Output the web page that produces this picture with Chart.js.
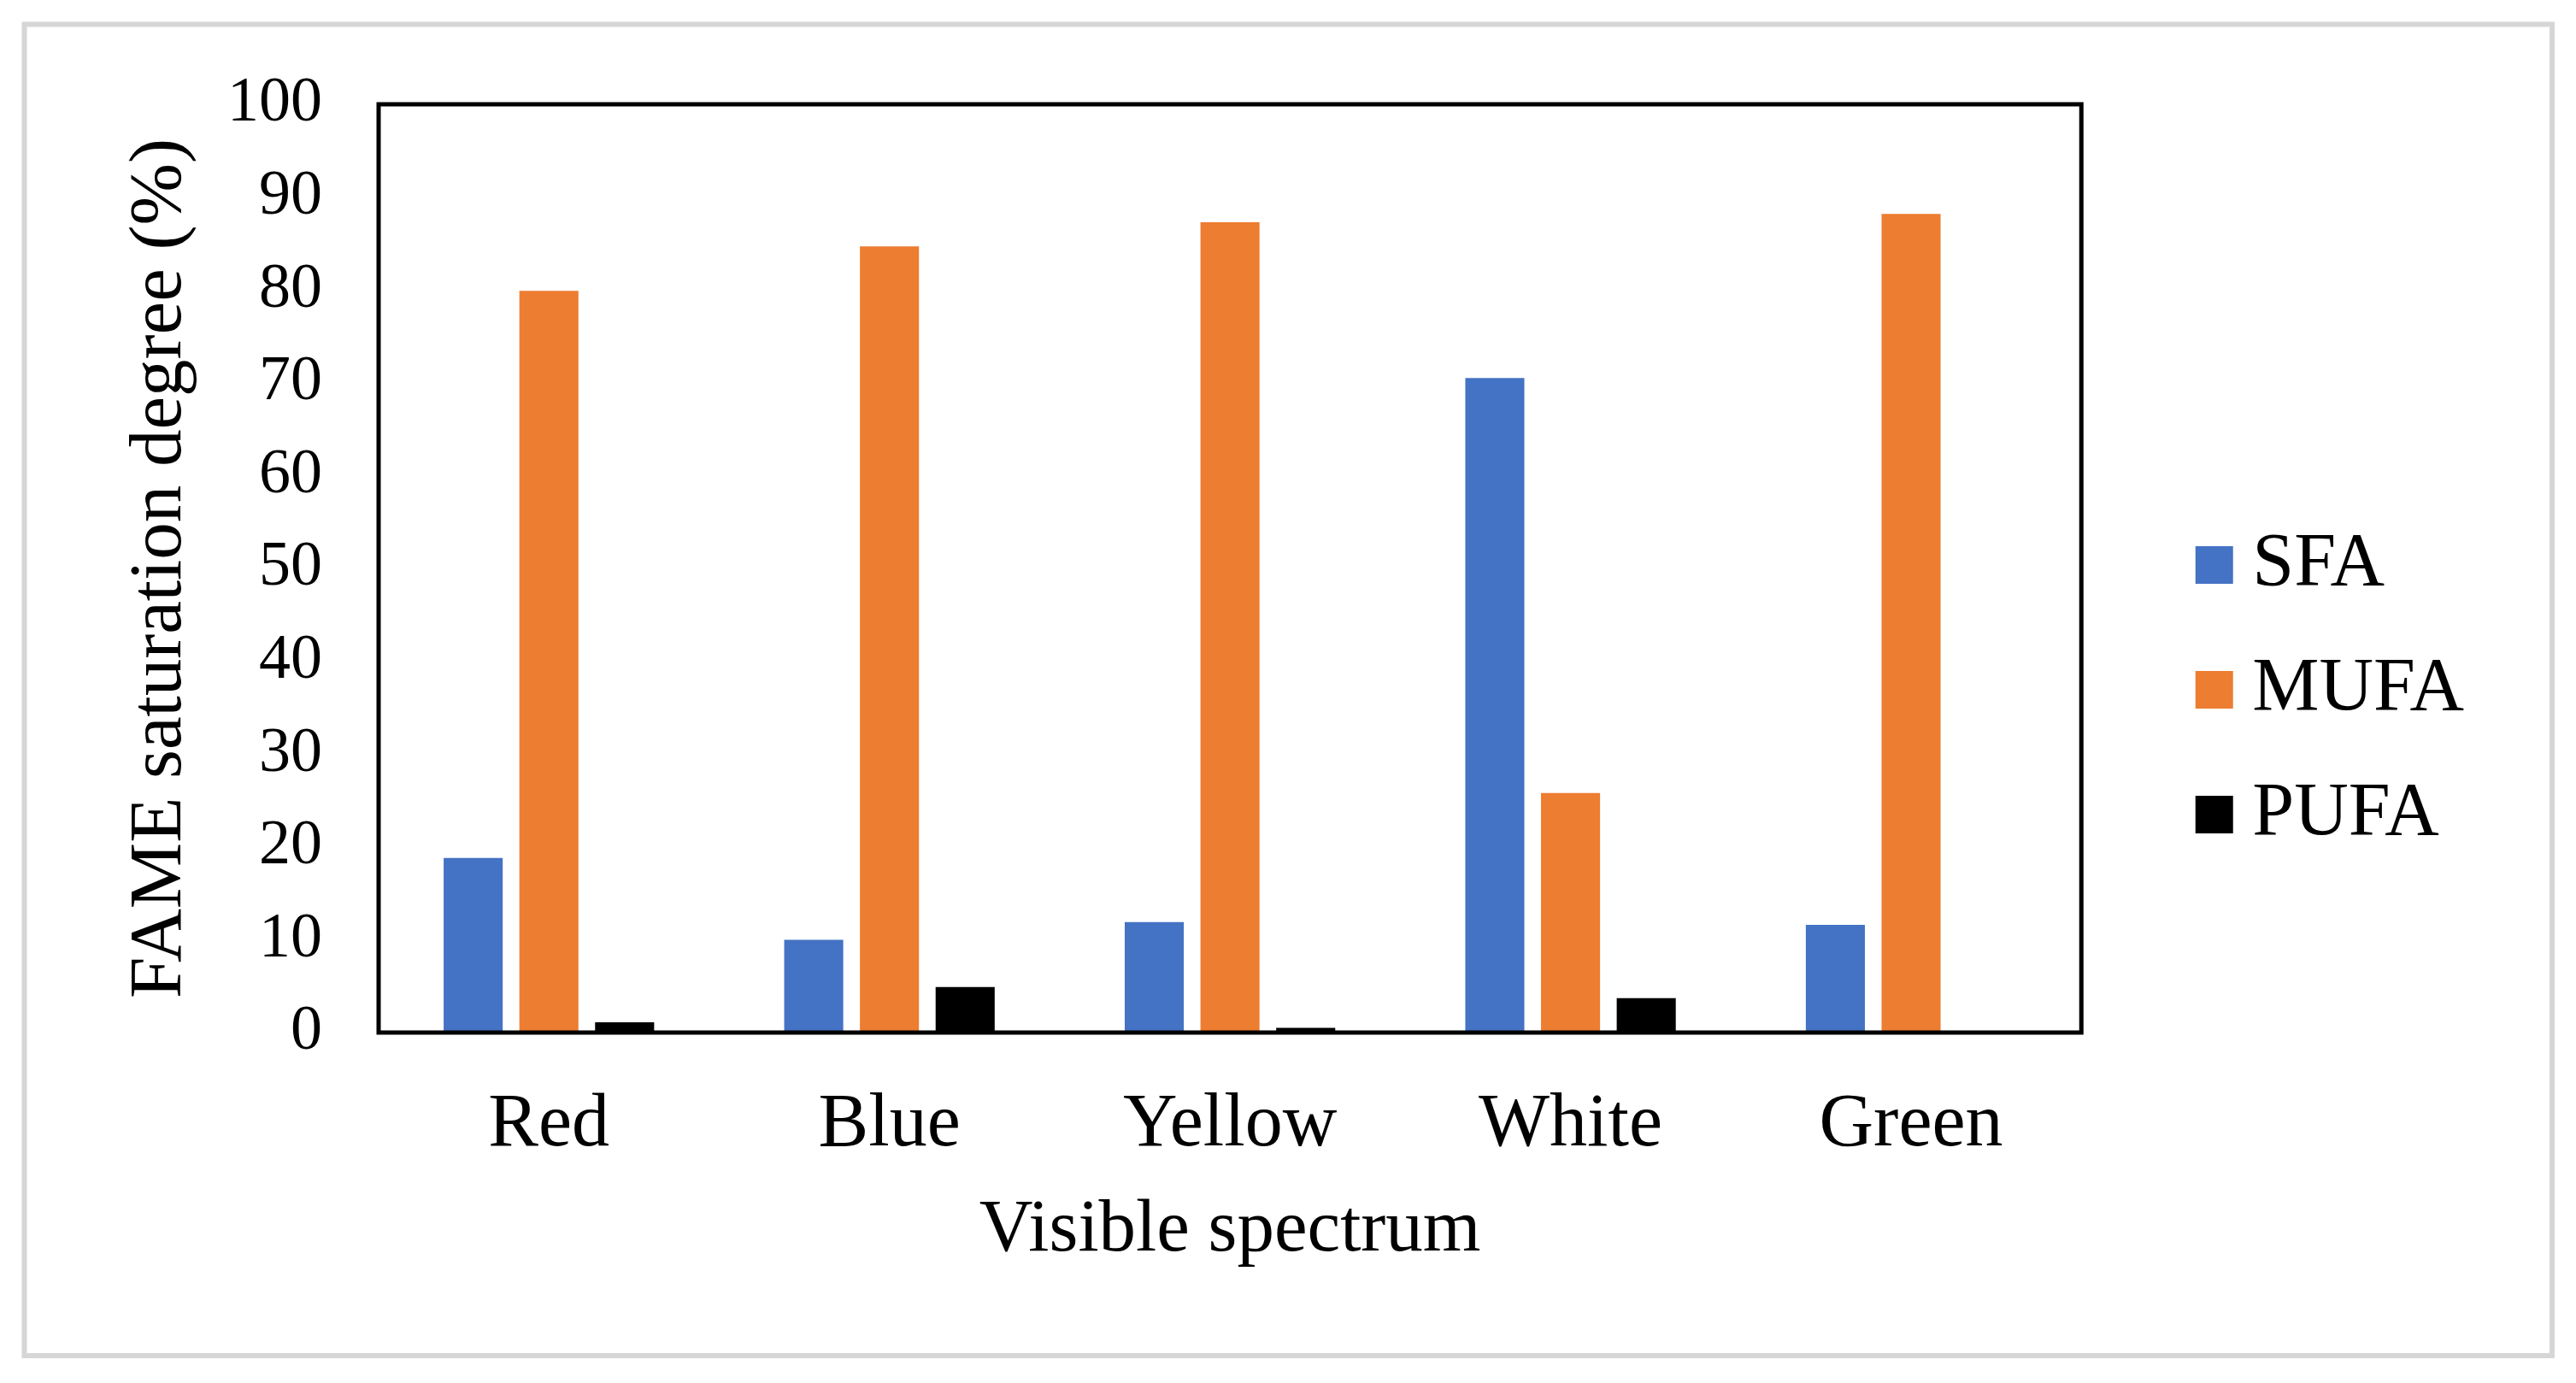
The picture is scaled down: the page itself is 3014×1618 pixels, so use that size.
<!DOCTYPE html>
<html>
<head>
<meta charset="utf-8">
<script src="https://cdn.jsdelivr.net/npm/chart.js@4/dist/chart.umd.min.js"></script>
<style>
  body { margin: 0; background: #fff; }
  #wrap { width: 3014px; height: 1618px; position: relative; }
</style>
</head>
<body>
<div id="wrap"><canvas id="fameChart"></canvas></div>
<script>
const spectrum = ['Red', 'Blue', 'Yellow', 'White', 'Green'];
const sfa  = [18.8, 10.0, 11.9, 70.5, 11.6];
const mufa = [79.9, 84.7, 87.3, 25.8, 88.2];
const pufa = [1.1, 4.9, 0.5, 3.7, 0];

const serif = 'Liberation Serif, Times New Roman, serif';

// white page + light grey outer frame, black frame round the plot
const framePlugin = {
    id: 'frame',
    beforeDraw: (chart) => {
        const c = chart.ctx;
        c.save();
        c.fillStyle = '#fff';
        c.fillRect(0, 0, chart.width, chart.height);
        c.strokeStyle = '#d6d6d6';
        c.lineWidth = 6;
        c.strokeRect(28.5, 28.5, 2957.5, 1557.5);
        c.restore();
    },
    afterDatasetsDraw: (chart) => {
        const a = chart.chartArea;
        const c = chart.ctx;
        c.save();
        c.strokeStyle = '#000';
        c.lineWidth = 5;
        c.strokeRect(a.left, a.top, a.right - a.left, a.bottom - a.top);
        c.restore();
    }
};

const ctx = document.getElementById('fameChart').getContext('2d');

const chart = new Chart(ctx, {
    type: 'bar',
    data: {
        labels: spectrum,
        datasets: [{
            label: 'SFA',
            data: sfa,
            backgroundColor: '#4472C4',
            categoryPercentage: 0.667,
            barPercentage: 0.78
        }, {
            label: 'MUFA',
            data: mufa,
            backgroundColor: '#ED7D31',
            categoryPercentage: 0.667,
            barPercentage: 0.78
        }, {
            label: 'PUFA',
            data: pufa,
            backgroundColor: '#000000',
            categoryPercentage: 0.667,
            barPercentage: 0.78
        }]
    },
    options: {
        responsive: true,
        maintainAspectRatio: false,
        devicePixelRatio: 1,
        animation: false,
        layout: {
            padding: { left: 100, right: 121, top: 122, bottom: 126 }
        },
        scales: {
            x: {
                grid: { display: false },
                border: { display: false },
                ticks: {
                    color: '#000',
                    padding: 48,
                    font: { family: serif, size: 88 }
                },
                title: {
                    display: true,
                    text: 'Visible spectrum',
                    color: '#000',
                    padding: { top: 0, bottom: 0 },
                    font: { family: serif, size: 87 }
                },
                afterFit: (s) => { s.height = 284; }
            },
            y: {
                min: 0,
                max: 100,
                grid: { display: false, drawTicks: false },
                border: { display: false },
                ticks: {
                    stepSize: 10,
                    color: '#000',
                    padding: 66,
                    font: { family: serif, size: 74 }
                },
                title: {
                    display: true,
                    text: 'FAME saturation degree (%)',
                    color: '#000',
                    padding: { top: 36, bottom: 0 },
                    font: { family: serif, size: 87 }
                },
                afterFit: (s) => { s.width = 343; }
            },
            // empty spacer between the plot and the legend
            gap: {
                position: 'right',
                grid: { display: false, drawTicks: false },
                border: { display: false },
                ticks: { display: false },
                afterFit: (s) => { s.width = 97; }
            }
        },
        plugins: {
            legend: {
                position: 'right',
                labels: {
                    usePointStyle: true,
                    pointStyle: 'rect',
                    boxWidth: 1,
                    boxHeight: 44,
                    padding: 58,
                    color: '#000',
                    font: { family: serif, size: 88 }
                }
            },
            tooltip: { enabled: false }
        }
    },
    plugins: [framePlugin]
});
</script>
</body>
</html>
